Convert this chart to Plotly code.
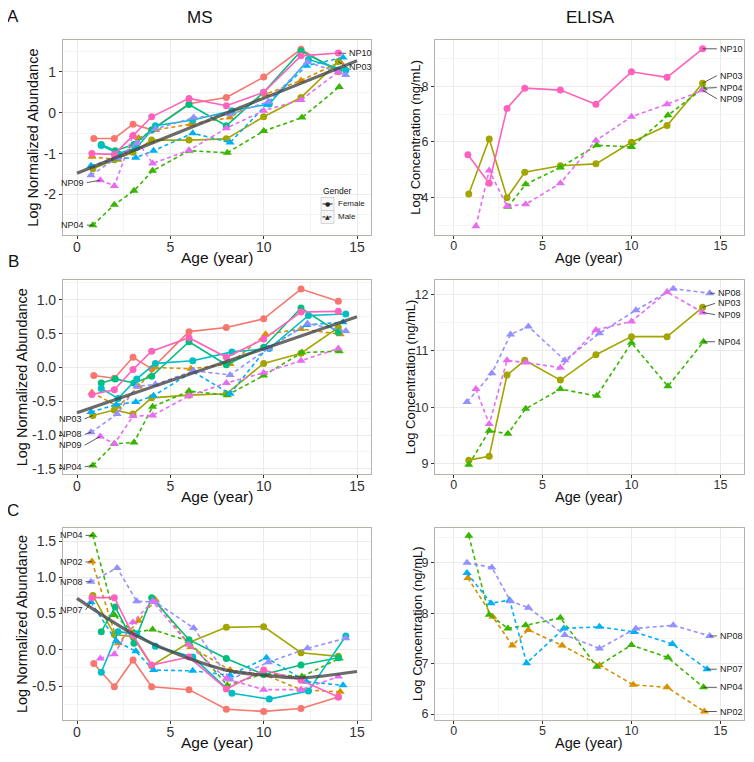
import plotly.graph_objects as go

# ---------------- data ----------------
SUBJECTS = ["NP01", "NP02", "NP03", "NP04", "NP05", "NP06", "NP07", "NP08", "NP09", "NP10"]
COLORS = {"NP01": "#F8766D", "NP02": "#D89000", "NP03": "#A3A500", "NP04": "#39B600",
          "NP05": "#00BF7D", "NP06": "#00BFC4", "NP07": "#00B0F6", "NP08": "#9590FF",
          "NP09": "#E76BF3", "NP10": "#FF62BC"}
FEMALE = ["NP01", "NP03", "NP05", "NP06", "NP10"]

AGES = {
    "NP01": [0.9, 2.0, 3.0, 4.0, 6.0, 8.0, 10.0, 12.0, 14.0],
    "NP02": [0.8, 2.2, 3.3, 4.2, 6.1, 8.2, 10.1, 12.0, 14.1],
    "NP03": [0.85, 2.0, 3.0, 4.0, 6.0, 8.0, 10.0, 12.0, 14.0],
    "NP04": [0.85, 2.0, 3.05, 4.05, 6.0, 8.05, 10.0, 12.05, 14.05],
    "NP05": [1.3, 2.05, 3.05, 4.0, 6.0, 8.0, 10.0, 12.0, 14.0],
    "NP06": [1.3, 2.2, 3.2, 4.2, 6.2, 8.3, 10.3, 12.4, 14.4],
    "NP07": [0.75, 2.1, 3.15, 4.1, 6.2, 8.2, 10.15, 12.3, 14.25],
    "NP08": [0.75, 2.15, 3.2, 4.2, 6.25, 8.2, 10.25, 12.35, 14.4],
    "NP09": [1.25, 2.0, 3.0, 4.05, 6.0, 8.0, 10.0, 12.0, 14.0],
    "NP10": [0.8, 2.0, 3.0, 4.0, 6.0, 8.0, 10.0, 12.0, 14.0],
}

MS_A = {
    "NP01": [-0.63, -0.63, -0.28, -0.42, 0.22, 0.37, 0.87, 1.55, 1.0],
    "NP02": [-1.08, -1.15, -0.62, -0.42, -0.28, -0.12, 0.45, 0.79, 1.24],
    "NP03": [-1.37, -1.15, -0.97, -0.67, -0.67, -0.64, -0.1, 0.37, 1.25],
    "NP04": [-2.75, -2.25, -1.91, -1.42, -0.93, -0.98, -0.45, -0.12, 0.63],
    "NP05": [-0.78, -0.93, -0.78, -0.42, 0.2, -0.32, 0.5, 1.51, 1.04],
    "NP06": [-0.8, -1.0, -0.85, -0.32, -0.18, 0.05, 0.21, 1.3, 1.04],
    "NP07": [-1.3, -1.12, -1.1, -0.93, -0.5, -0.73, 0.2, 1.15, 1.35],
    "NP08": [-1.53, -1.1, -0.75, -0.4, -0.12, -0.04, 0.27, 1.24, 0.92],
    "NP09": [-1.65, -1.79, -0.55, -1.24, -0.92, -0.38, 0.05, 0.31, 1.0],
    "NP10": [-1.0, -1.02, -0.56, -0.1, 0.35, 0.17, 0.5, 1.39, 1.46],
}
MS_B = {
    "NP01": [-0.12, -0.16, 0.15, -0.02, 0.53, 0.59, 0.72, 1.16, 0.98],
    "NP02": [-0.37, -0.58, -0.28, 0.0, -0.02, 0.05, 0.49, 0.57, 0.49],
    "NP03": [-0.71, -0.63, -0.69, -0.45, -0.41, -0.39, 0.06, 0.21, 0.59],
    "NP04": [-1.45, -1.13, -1.11, -0.58, -0.35, -0.41, -0.12, 0.22, 0.24],
    "NP05": [-0.23, -0.17, -0.23, -0.13, 0.38, 0.04, 0.3, 0.88, 0.52],
    "NP06": [-0.31, -0.46, -0.17, 0.06, 0.1, 0.23, 0.28, 0.77, 0.79],
    "NP07": [-0.66, -0.55, -0.51, -0.42, -0.06, -0.39, 0.28, 0.63, 0.67],
    "NP08": [-0.96, -0.69, -0.28, -0.25, -0.05, -0.11, 0.28, 0.65, 0.54],
    "NP09": [-1.02, -1.13, -0.72, -0.71, -0.42, -0.23, -0.08, 0.1, 0.28],
    "NP10": [-0.40, -0.33, -0.03, 0.24, 0.44, 0.15, 0.42, 0.82, 0.83],
}
MS_C = {
    "NP01": [-0.19, -0.51, -0.14, -0.51, -0.55, -0.82, -0.85, -0.81, -0.65],
    "NP02": [1.22, 0.09, 0.4, 0.69, 0.04, -0.28, -0.35, -0.55, -0.58],
    "NP03": [0.75, 0.21, 0.18, -0.22, 0.1, 0.31, 0.32, -0.04, -0.09],
    "NP04": [1.58, 0.48, 0.24, 0.28, 0.12, -0.49, -0.33, -0.37, -0.12],
    "NP05": [0.25, 0.59, 0.09, 0.72, 0.14, -0.12, -0.34, -0.21, -0.11],
    "NP06": [-0.31, 0.25, 0.22, 0.05, -0.1, -0.6, -0.68, -0.57, 0.19],
    "NP07": [0.66, 0.12, -0.02, -0.28, -0.29, -0.35, -0.11, -0.44, -0.49],
    "NP08": [0.94, 1.13, 0.67, 0.66, 0.3, -0.41, -0.17, 0.02, 0.16],
    "NP09": [-0.12, -0.06, 0.38, 0.67, 0.07, -0.4, -0.55, -0.55, -0.37],
    "NP10": [0.72, 0.72, 0.2, -0.21, -0.1, -0.54, -0.28, -0.42, -0.65],
}

EL_A = {
    "NP03": [4.12, 6.11, 3.99, 4.91, 5.14, 5.21, 5.99, 6.59, 8.12],
    "NP04": [None, None, 3.66, 4.47, 5.08, 5.88, 5.82, 6.96, 7.94],
    "NP09": [2.96, 4.97, 3.68, 3.75, 4.51, 6.05, 6.91, 7.36, 7.86],
    "NP10": [5.54, 4.51, 7.21, 7.94, 7.87, 7.36, 8.53, 8.33, 9.36],
}
EL_B = {
    "NP03": [9.06, 9.13, 10.57, 10.83, 10.48, 10.93, 11.25, 11.25, 11.77],
    "NP04": [8.98, 9.58, 9.53, 9.97, 10.32, 10.2, 11.14, 10.37, 11.16],
    "NP08": [10.09, 10.6, 11.29, 11.43, 10.83, 11.31, 11.72, 12.1, 12.02],
    "NP09": [10.32, 9.70, 10.83, 10.79, 10.70, 11.37, 11.52, 12.04, 11.68],
}
EL_C = {
    "NP02": [8.7, 7.93, 7.36, 7.67, 7.36, 6.97, 6.58, 6.53, 6.05],
    "NP04": [9.54, 7.97, 7.70, 7.76, 7.91, 6.94, 7.37, 7.12, 6.53],
    "NP07": [8.8, 8.2, 8.26, 7.01, 7.7, 7.73, 7.63, 7.39, 6.89],
    "NP08": [9.0, 8.91, 8.24, 8.11, 7.57, 7.30, 7.7, 7.76, 7.55],
}

# fitted trend
TREND_A_AGE = [0, 15]
TREND_A_VAL = [-1.48, 1.27]
TREND_B_AGE = [0, 15]
TREND_B_VAL = [-0.67, 0.75]
TREND_C_AGE = [0, 3, 5, 8, 10, 12, 15]
TREND_C_VAL = [0.71, 0.22, -0.02, -0.28, -0.35, -0.385, -0.30]

# direct labels: (subject, label y, side)
LAB_MS_A = [("NP09", -1.71, "left"), ("NP04", -2.75, "left"), ("NP10", 1.45, "right"), ("NP03", 1.12, "right")]
LAB_MS_B = [("NP03", -0.76, "left"), ("NP08", -0.99, "left"), ("NP09", -1.15, "left"), ("NP04", -1.47, "left")]
LAB_MS_C = [("NP04", 1.58, "left"), ("NP02", 1.21, "left"), ("NP08", 0.94, "left"), ("NP07", 0.55, "left")]
LAB_EL_A = [("NP10", 9.36), ("NP03", 8.39), ("NP04", 7.96), ("NP09", 7.56)]
LAB_EL_B = [("NP08", 12.02), ("NP03", 11.84), ("NP09", 11.64), ("NP04", 11.16)]
LAB_EL_C = [("NP08", 7.55), ("NP07", 6.89), ("NP04", 6.53), ("NP02", 6.05)]

X_TICKS = [0, 5, 10, 15]
Y_TICKS = {
    "A_MS": ([-2, -1, 0, 1], ["-2", "-1", "0", "1"]),
    "A_EL": ([4, 6, 8], ["4", "6", "8"]),
    "B_MS": ([-1.5, -1.0, -0.5, 0.0, 0.5, 1.0], ["-1.5", "-1.0", "-0.5", "0.0", "0.5", "1.0"]),
    "B_EL": ([9, 10, 11, 12], ["9", "10", "11", "12"]),
    "C_MS": ([-0.5, 0.0, 0.5, 1.0, 1.5], ["-0.5", "0.0", "0.5", "1.0", "1.5"]),
    "C_EL": ([6, 7, 8, 9], ["6", "7", "8", "9"]),
}

# ---------------- figure ----------------
FONT = "Liberation Sans, Arial, Helvetica, sans-serif"
fig = go.Figure()

# the page body has an 8px margin: the figure is drawn at (8, 8) in the window
OFF = 8
W, H = 738, 746


def px(xp):
    return (xp - OFF) / W


def py(yp):
    return 1 - (yp - OFF) / H


# plot boxes in window pixels: (left, right), (top, bottom)
BX_MS = (63, 371)
BX_EL = (435, 743.5)
BY_A = (40, 236)
BY_B = (281, 475.5)
BY_C = (529.5, 722)

MS_STYLE = dict(tick=14, xtitle=15.5, ytitle=14.5)
EL_STYLE = dict(tick=12.5, xtitle=14.5, ytitle=13)


def xdom(b):
    return [px(b[0]), px(b[1])]


def ydom(b):
    return [py(b[1]), py(b[0])]


panels = [
    # idx, xbox, ybox, xrange, yrange, tick key, minor y step, y title, y title x, style
    (1, BX_MS, BY_A, [-0.75, 15.75], [-3.0, 1.78], "A_MS", 0.5, "Log Normalized Abundance", 33, MS_STYLE),
    (2, BX_EL, BY_A, [-1.05, 16.3], [2.63, 9.68], "A_EL", 1.0, "Log Concentration (ng/mL)", 416, EL_STYLE),
    (3, BX_MS, BY_B, [-0.75, 15.75], [-1.58, 1.29], "B_MS", 0.25, "Log Normalized Abundance", 22, MS_STYLE),
    (4, BX_EL, BY_B, [-1.05, 16.3], [8.81, 12.25], "B_EL", 0.5, "Log Concentration (ng/mL)", 410, EL_STYLE),
    (5, BX_MS, BY_C, [-0.75, 15.75], [-0.97, 1.68], "C_MS", 0.25, "Log Normalized Abundance", 22, MS_STYLE),
    (6, BX_EL, BY_C, [-1.05, 16.3], [5.88, 9.69], "C_EL", 0.5, "Log Concentration (ng/mL)", 417, EL_STYLE),
]

GRID = "#ebebeb"
MINOR = "#f4f4f4"
BORDER = "#b8b2aa"
layout_axes = {}
annotations = []
for idx, xb, yb, xr, yr, key, ystep, ytitle, ytx, st in panels:
    s = "" if idx == 1 else str(idx)
    tv, tt = Y_TICKS[key]
    layout_axes["xaxis" + s] = dict(
        domain=xdom(xb), range=xr, anchor="y" + s, tickmode="array", tickvals=X_TICKS,
        ticktext=[str(v) for v in X_TICKS], showgrid=True, gridcolor=GRID, gridwidth=0.8,
        minor=dict(dtick=2.5, tick0=0, showgrid=True, gridcolor=MINOR, gridwidth=0.6, ticklen=0),
        showline=True, linecolor=BORDER, linewidth=1.2, mirror=True, zeroline=False,
        ticks="outside", ticklen=3, tickcolor="#333", tickwidth=1, ticklabelstandoff=-4,
        tickfont=dict(family=FONT, size=st["tick"], color="#333"),
    )
    layout_axes["yaxis" + s] = dict(
        domain=ydom(yb), range=yr, anchor="x" + s, tickmode="array", tickvals=tv, ticktext=tt,
        showgrid=True, gridcolor=GRID, gridwidth=0.8,
        minor=dict(dtick=ystep, tick0=0, showgrid=True, gridcolor=MINOR, gridwidth=0.6, ticklen=0),
        showline=True, linecolor=BORDER, linewidth=1.2, mirror=True, zeroline=False,
        ticks="outside", ticklen=3, tickcolor="#333", tickwidth=1,
        tickfont=dict(family=FONT, size=st["tick"], color="#333"),
    )
    # axis titles
    annotations.append(dict(x=px((xb[0] + xb[1]) / 2), y=py(yb[1] + 22.5), xref="paper", yref="paper",
                            text="Age (year)", showarrow=False, xanchor="center", yanchor="middle",
                            font=dict(family=FONT, size=st["xtitle"], color="#111")))
    annotations.append(dict(x=px(ytx), y=py((yb[0] + yb[1]) / 2), xref="paper", yref="paper",
                            text=ytitle, showarrow=False, textangle=-90, xanchor="center", yanchor="middle",
                            font=dict(family=FONT, size=st["ytitle"], color="#111")))


def add_series(data, idx):
    s = "" if idx == 1 else str(idx)
    for subj in SUBJECTS:
        if subj not in data:
            continue
        male = subj not in FEMALE
        fig.add_trace(go.Scatter(
            x=AGES[subj], y=data[subj], mode="lines+markers", name=subj, showlegend=False,
            line=dict(color=COLORS[subj], width=1.6, dash="4px,3px" if male else "solid"),
            marker=dict(symbol="triangle-up" if male else "circle", size=8 if male else 7,
                        color=COLORS[subj], line=dict(width=0)),
            xaxis="x" + s, yaxis="y" + s, cliponaxis=False))


def add_trend(ages, vals, idx):
    s = "" if idx == 1 else str(idx)
    fig.add_trace(go.Scatter(x=ages, y=vals, mode="lines", showlegend=False,
                             line=dict(color="rgba(70,70,70,0.8)", width=3.2, shape="spline"),
                             xaxis="x" + s, yaxis="y" + s))


def first_valid(lst_x, lst_y):
    for a, b in zip(lst_x, lst_y):
        if b is not None:
            return a, b


def last_valid(lst_x, lst_y):
    for a, b in zip(reversed(lst_x), reversed(lst_y)):
        if b is not None:
            return a, b


def add_ms_labels(data, labels, idx, left_x):
    s = "" if idx == 1 else str(idx)
    for subj, ly, side in labels:
        if side == "left":
            pxv, pyv = first_valid(AGES[subj], data[subj])
            tx = left_x
            fig.add_trace(go.Scatter(x=[tx + 0.03, pxv], y=[ly, pyv], mode="lines", showlegend=False,
                                     line=dict(color="#333", width=0.8), xaxis="x" + s, yaxis="y" + s,
                                     cliponaxis=False))
            annotations.append(dict(x=tx, y=ly, xref="x" + s, yref="y" + s, text=subj, showarrow=False,
                                    xanchor="right", font=dict(family=FONT, size=9, color="#222")))
        else:
            pxv, pyv = last_valid(AGES[subj], data[subj])
            tx = 14.45
            fig.add_trace(go.Scatter(x=[pxv, tx - 0.03], y=[pyv, ly], mode="lines", showlegend=False,
                                     line=dict(color="#333", width=0.8), xaxis="x" + s, yaxis="y" + s,
                                     cliponaxis=False))
            annotations.append(dict(x=tx, y=ly, xref="x" + s, yref="y" + s, text=subj, showarrow=False,
                                    xanchor="left", font=dict(family=FONT, size=9, color="#222")))


def add_el_labels(data, labels, idx, tx):
    s = str(idx)
    for subj, ly in labels:
        pxv, pyv = last_valid(AGES[subj], data[subj])
        fig.add_trace(go.Scatter(x=[pxv, tx - 0.05], y=[pyv, ly], mode="lines", showlegend=False,
                                 line=dict(color="#333", width=0.8), xaxis="x" + s, yaxis="y" + s,
                                 cliponaxis=False))
        annotations.append(dict(x=tx, y=ly, xref="x" + s, yref="y" + s, text=subj, showarrow=False,
                                xanchor="left", font=dict(family=FONT, size=9, color="#222")))


add_series(MS_A, 1); add_trend(TREND_A_AGE, TREND_A_VAL, 1); add_ms_labels(MS_A, LAB_MS_A, 1, 0.5)
add_series(EL_A, 2); add_el_labels(EL_A, LAB_EL_A, 2, 14.85)
add_series(MS_B, 3); add_trend(TREND_B_AGE, TREND_B_VAL, 3); add_ms_labels(MS_B, LAB_MS_B, 3, 0.38)
add_series(EL_B, 4); add_el_labels(EL_B, LAB_EL_B, 4, 14.75)
add_series(MS_C, 5); add_trend(TREND_C_AGE, TREND_C_VAL, 5); add_ms_labels(MS_C, LAB_MS_C, 5, 0.43)
add_series(EL_C, 6); add_el_labels(EL_C, LAB_EL_C, 6, 14.85)

# titles and panel letters
for txt, xp, yp, size in [("MS", 200, 18, 17), ("ELISA", 590, 18, 17),
                          ("A", 13, 17, 17), ("B", 13, 262, 17), ("C", 13, 512, 17)]:
    annotations.append(dict(x=px(xp), y=py(yp), xref="paper", yref="paper", text=txt, showarrow=False,
                            xanchor="center", yanchor="middle", font=dict(family=FONT, size=size, color="#111")))

# legend (Gender) drawn inside panel A MS
shapes = []
annotations.append(dict(x=px(321), y=py(191), xref="paper", yref="paper", text="Gender", showarrow=False,
                        xanchor="left", yanchor="middle", font=dict(family=FONT, size=8.5, color="#111")))
for i, (lab, dash, sym) in enumerate([("Female", "solid", "●"), ("Male", "dash", "▲")]):
    y0 = 198 + i * 13
    shapes.append(dict(type="rect", xref="paper", yref="paper", x0=px(321), x1=px(334),
                       y0=py(y0), y1=py(y0 + 13), line=dict(color="#cccccc", width=0.8),
                       fillcolor="rgba(242,242,242,0.6)"))
    shapes.append(dict(type="line", xref="paper", yref="paper", x0=px(322.5), x1=px(332.5),
                       y0=py(y0 + 6.5), y1=py(y0 + 6.5),
                       line=dict(color="#222", width=1, dash="dot" if dash == "dash" else "solid")))
    annotations.append(dict(x=px(327.5), y=py(y0 + 6.5), xref="paper", yref="paper", text=sym,
                            showarrow=False, xanchor="center", yanchor="middle",
                            font=dict(family="DejaVu Sans", size=6, color="#222")))
    annotations.append(dict(x=px(336), y=py(y0 + 6.5), xref="paper", yref="paper", text=lab,
                            showarrow=False, xanchor="left", yanchor="middle",
                            font=dict(family=FONT, size=8, color="#222")))

fig.update_layout(width=W, height=H, margin=dict(l=0, r=0, t=0, b=0),
                  paper_bgcolor="white", plot_bgcolor="white", showlegend=False,
                  annotations=annotations, shapes=shapes, **layout_axes)

fig.write_html("out.html")
